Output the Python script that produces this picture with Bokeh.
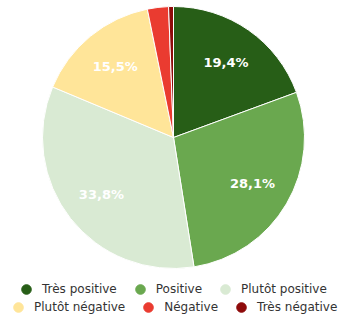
import math
from bokeh.plotting import figure
from bokeh.models import ColumnDataSource, Range1d, Legend, LegendItem
from bokeh.embed import file_html
from bokeh.resources import INLINE
from bokeh.core.properties import value

categories = ["Très positive", "Positive", "Plutôt positive", "Plutôt négative", "Négative", "Très négative"]
shares = [19.4, 28.1, 33.8, 15.5, 2.6, 0.6]
labels = ["19,4%", "28,1%", "33,8%", "15,5%", "", ""]
colors = ["#275e17", "#6aa84f", "#d9ead3", "#ffe599", "#ea3b30", "#8e0a0a"]

W, H = 338, 319
CX, CY, R = 173, 182, 131
LR = 0.7 * R

total = sum(shares)
starts, ends, lx, ly = [], [], [], []
cum = 0.0
for s in shares:
    a0 = math.pi / 2 - 2 * math.pi * cum / total
    cum += s
    a1 = math.pi / 2 - 2 * math.pi * cum / total
    starts.append(a0)
    ends.append(a1)
    mid = (a0 + a1) / 2
    lx.append(CX + LR * math.cos(mid))
    ly.append(CY + LR * math.sin(mid))

src = ColumnDataSource(dict(cat=categories, start=starts, end=ends, color=colors,
                            lx=lx, ly=ly, label=labels,
                            x=[CX] * len(shares), y=[CY] * len(shares)))

p = figure(width=W, height=H, output_backend="svg", toolbar_location=None,
           x_range=Range1d(0, W), y_range=Range1d(0, H), min_border=0)
p.axis.visible = False
p.grid.visible = False
p.outline_line_color = None
p.background_fill_color = "white"

p.wedge(x="x", y="y", radius=R, start_angle="start", end_angle="end",
        direction="clock", fill_color="color", line_color="white", line_width=1,
        source=src)
p.text(x="lx", y="ly", text="label", source=src, text_color="white",
       text_font=value("DejaVu Sans"), text_font_style="bold", text_font_size="13px",
       text_align="center", text_baseline="middle")

nan = float("nan")
dummies = []
for c, col in zip(categories, colors):
    r = p.scatter(x=[nan], y=[nan], marker="circle", size=10,
                  fill_color=col, line_color=col)
    dummies.append(LegendItem(label=c, renderers=[r]))

def mk_legend(items, loc):
    lg = Legend(items=items, orientation="horizontal", location=loc,
                label_text_font="DejaVu Sans", label_text_font_size="12px",
                label_text_color="#333333", glyph_width=24, glyph_height=24,
                label_standoff=4, spacing=11, padding=0, margin=0,
                border_line_color=None, background_fill_alpha=0,
                label_height=14)
    p.add_layout(lg, "center")

mk_legend(dummies[:3], (14, 18))
mk_legend(dummies[3:], (6, 0))

open("out.html", "w").write(file_html(p, INLINE))
